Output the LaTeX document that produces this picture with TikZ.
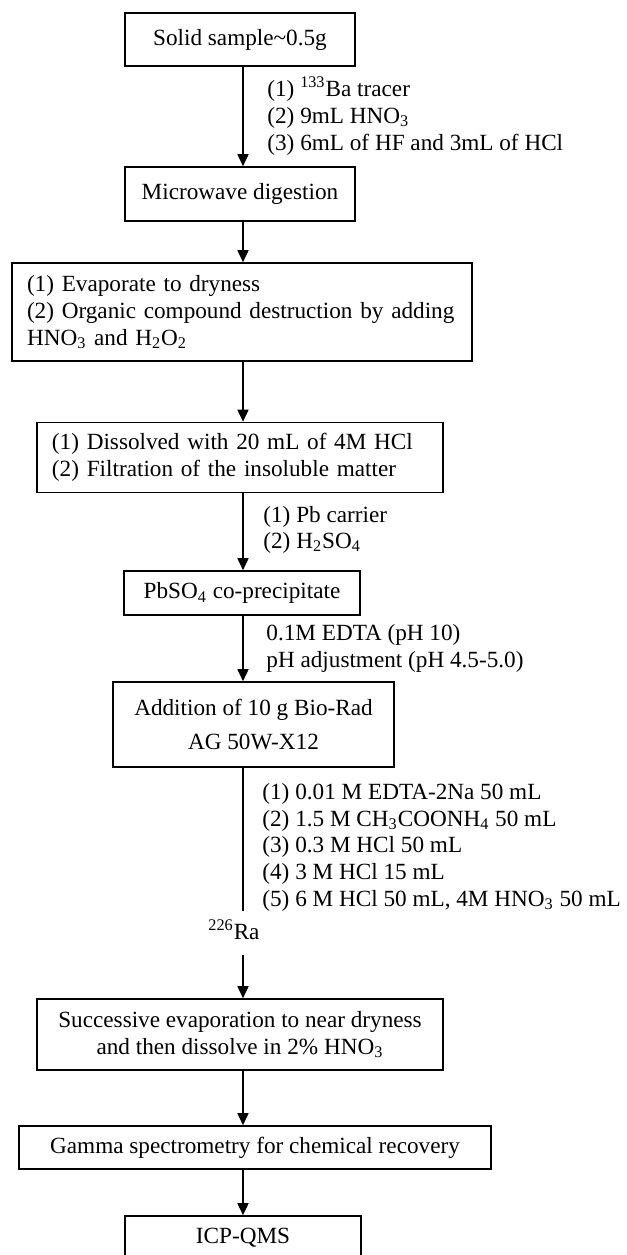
\documentclass[tikz,border=0pt]{standalone}
\usepackage{fontspec}
\setmainfont{Liberation Serif}
\usetikzlibrary{arrows.meta}
\tikzset{
  box/.style={draw, line width=0.8pt, inner sep=0pt, font=\fontsize{11.6}{13.5}\selectfont},
  lbl/.style={anchor=base west, inner sep=0pt, font=\fontsize{11.6}{13.5}\selectfont},
  arr/.style={line width=0.8pt, -{Triangle[length=6pt,width=5.5pt]}},
  ln/.style={line width=0.8pt},
}
\begin{document}
\begin{tikzpicture}[x=0.5pt,y=-0.5pt]
\useasboundingbox (0,0) rectangle (627,1255);
\coordinate (ax) at (243,0);
% boxes
\node[box, minimum width=115pt, minimum height=26.5pt] (b1) at (240,39.5) {Solid sample\char"007E 0.5g};
\node[box, minimum width=115pt, minimum height=27pt] (b2) at (240,194) {Microwave digestion};
\node[box, minimum height=49pt, text width=215pt, inner xsep=7.5pt, align=left] (b3) at (242,312) {(1) Evaporate to dryness\\(2) Organic compound destruction by adding\\HNO\textsubscript{3} and H\textsubscript{2}O\textsubscript{2}};
\node[box, minimum height=35pt, text width=188pt, inner xsep=7.5pt, align=left] (b4) at (240,457.5) {(1) Dissolved with 20 mL of 4M HCl\\(2) Filtration of the insoluble matter};
\node[box, minimum width=118pt, minimum height=22pt] (b5) at (242,593) {PbSO\textsubscript{4} co-precipitate};
\node[box, minimum width=140.5pt, minimum height=42.5pt, align=center] (b6) at (253.5,724.5) {Addition of 10 g Bio-Rad\\[3.5pt]AG 50W-X12};
\node[box, minimum width=203pt, minimum height=35.5pt, align=center] (b7) at (240,1034.5) {Successive evaporation to near dryness\\and then dissolve in 2\% HNO\textsubscript{3}};
\node[box, minimum width=236pt, minimum height=21.5pt] (b8) at (255,1147.5) {Gamma spectrometry for chemical recovery};
\node[box, minimum width=118pt, minimum height=22pt] (b9) at (243,1238) {ICP-QMS};
% labels
\node[lbl] (l1a) at (267,96) {(1) \textsuperscript{133}Ba tracer};
\node[lbl] (l1b) at (267,123) {(2) 9mL HNO\textsubscript{3}};
\node[lbl] (l1c) at (267,150) {(3) 6mL of HF and 3mL of HCl};
\node[lbl] (l2a) at (263,522) {(1) Pb carrier};
\node[lbl] (l2b) at (263,548) {(2) H\textsubscript{2}SO\textsubscript{4}};
\node[lbl] (l3a) at (266,640) {0.1M EDTA (pH 10)};
\node[lbl] (l3b) at (266,667) {pH adjustment (pH 4.5-5.0)};
\node[lbl] (l4a) at (262,799) {(1) 0.01 M EDTA-2Na 50 mL};
\node[lbl] (l4b) at (262,826) {(2) 1.5 M CH\textsubscript{3}COONH\textsubscript{4} 50 mL};
\node[lbl] (l4c) at (262,852) {(3) 0.3 M HCl 50 mL};
\node[lbl] (l4d) at (262,879) {(4) 3 M HCl 15 mL};
\node[lbl] (l4e) at (262,906) {(5) 6 M HCl 50 mL, 4M HNO\textsubscript{3} 50 mL};
\node[lbl] (ra) at (208,939) {\textsuperscript{226}Ra};
\coordinate (raTop) at (243,911);
\coordinate (raBot) at (243,955);
% connectors
\draw[arr] (b1.south -| ax) -- (b2.north -| ax);
\draw[arr] (b2.south -| ax) -- (b3.north -| ax);
\draw[arr] (b3.south -| ax) -- (b4.north -| ax);
\draw[arr] (b4.south -| ax) -- (b5.north -| ax);
\draw[arr] (b5.south -| ax) -- (b6.north -| ax);
\draw[ln] (b6.south -| ax) -- (raTop);
\draw[arr] (raBot) -- (b7.north -| ax);
\draw[arr] (b7.south -| ax) -- (b8.north -| ax);
\draw[arr] (b8.south -| ax) -- (b9.north -| ax);
\end{tikzpicture}
\end{document}
